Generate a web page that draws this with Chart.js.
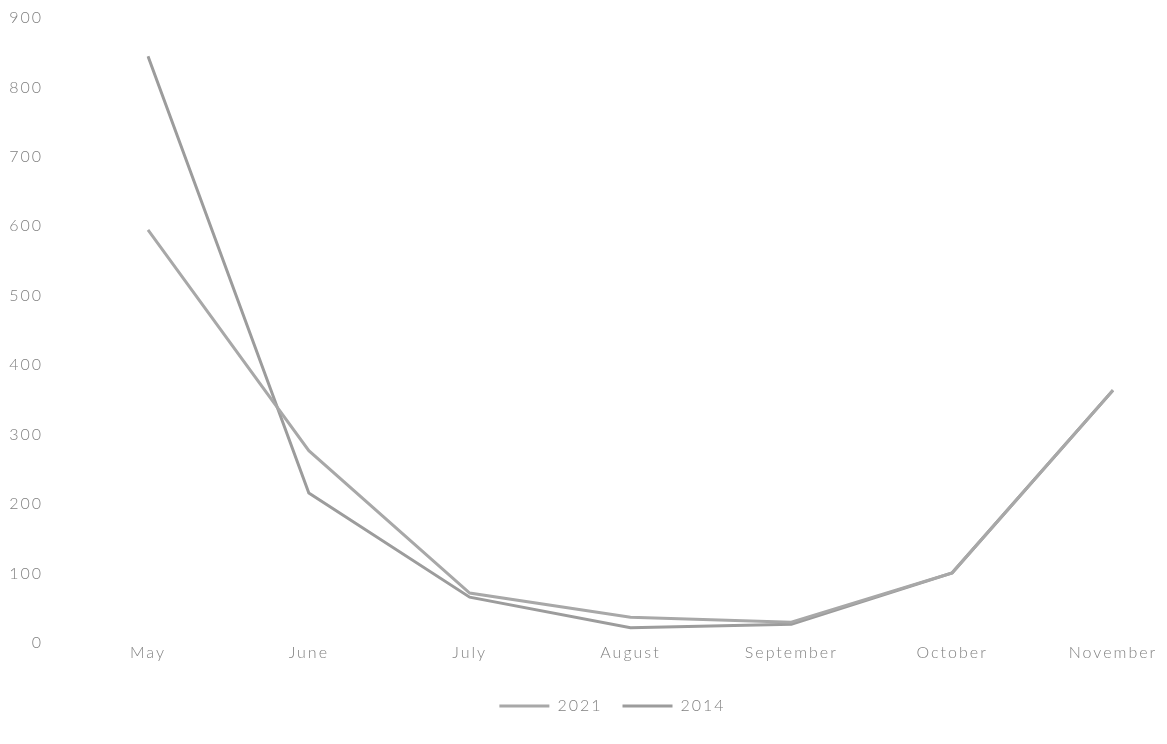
<!DOCTYPE html>
<html>
<head>
<meta charset="utf-8">
<script src="https://cdn.jsdelivr.net/npm/chart.js@4"></script>
<style>
  html, body { margin: 0; padding: 0; background: #fff; }
  #wrap { width: 1167px; height: 744px; }
</style>
</head>
<body>
<div id="wrap"><canvas id="chart"></canvas></div>
<script>
var months = ['May', 'June', 'July', 'August', 'September', 'October', 'November'];
var values2021 = [595, 277, 72, 37, 30, 101, 364];
var values2014 = [845, 216, 66, 22, 27, 101, 364];
var yTicks = [0, 100, 200, 300, 400, 500, 600, 700, 800, 900];

// spaced-out letters like the scanned original
var spacing = {
  id: 'spacing',
  beforeLayout: function (chart) { chart.ctx.letterSpacing = '2px'; },
  beforeDraw: function (chart) { chart.ctx.letterSpacing = '2px'; }
};

// nudge the legend a bit left, it is not centred on the plot in the original
var legendShift = {
  id: 'legendShift',
  afterLayout: function (chart) {
    chart.legend.left -= 18;
    chart.legend.right -= 18;
  }
};

var txt = '#808080';
var fnt = { family: 'Lato', size: 16, weight: '300' };

var ctx = document.getElementById('chart').getContext('2d');
var chart = new Chart(ctx, {
  type: 'line',
  data: {
    labels: months,
    datasets: [{
      label: '2021',
      data: values2021,
      borderColor: '#a8a8a8',
      backgroundColor: '#a8a8a8',
      borderWidth: 3,
      pointRadius: 0,
      tension: 0
    }, {
      label: '2014',
      data: values2014,
      borderColor: '#9c9c9c',
      backgroundColor: '#9c9c9c',
      borderWidth: 3,
      pointRadius: 0,
      tension: 0
    }]
  },
  plugins: [spacing, legendShift],
  options: {
    responsive: true,
    maintainAspectRatio: false,
    animation: false,
    layout: { padding: { left: 0, right: 54, top: 18, bottom: 20 } },
    scales: {
      x: {
        grid: { display: false, drawTicks: false },
        border: { display: false },
        ticks: { color: txt, font: fnt, padding: 0, maxRotation: 0 },
        afterFit: function (s) { s.height = 35; }
      },
      y: {
        min: 0,
        max: 900,
        afterBuildTicks: function (s) { s.ticks = yTicks.map(function (v) { return { value: v }; }); },
        grid: { display: false, drawTicks: false },
        border: { display: false },
        ticks: { color: txt, font: fnt, padding: 105 },
        afterFit: function (s) { s.width = 148; s.paddingTop = 9; s.paddingBottom = 9; }
      }
    },
    plugins: {
      tooltip: { enabled: false },
      legend: {
        position: 'bottom',
        fullSize: false,
        labels: {
          color: txt,
          font: fnt,
          usePointStyle: true,
          pointStyle: 'line',
          pointStyleWidth: 50,
          boxHeight: 10,
          padding: 20
        }
      }
    }
  }
});
</script>
</body>
</html>
